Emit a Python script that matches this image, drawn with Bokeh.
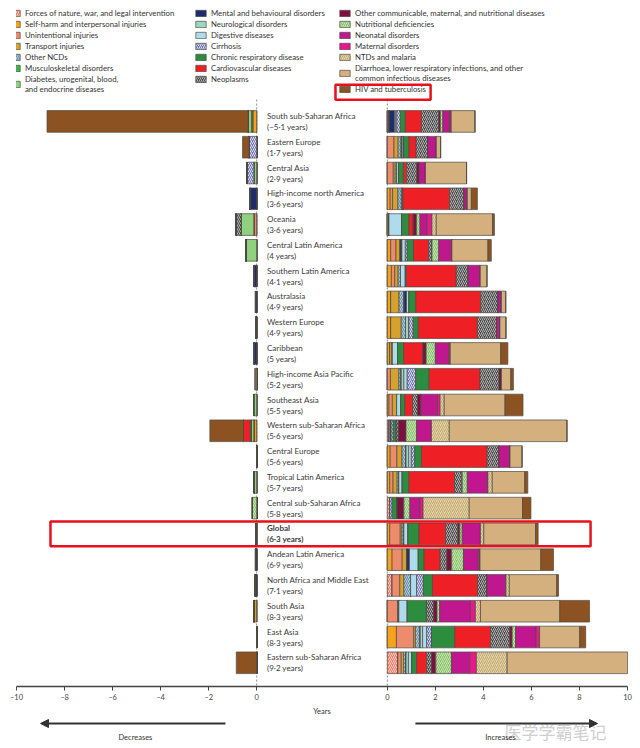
from bokeh.plotting import figure
from bokeh.models import (Range1d, ColumnDataSource, Legend, LegendItem, FixedTicker,
                          Arrow, NormalHead)
from bokeh.layouts import column
from bokeh.embed import file_html
from bokeh.resources import INLINE
from bokeh.core.properties import value

# ---------------- data ----------------
regions = ["South sub-Saharan Africa", "Eastern Europe", "Central Asia", "High-income north America",
           "Oceania", "Central Latin America", "Southern Latin America", "Australasia", "Western Europe",
           "Caribbean", "High-income Asia Pacific", "Southeast Asia", "Western sub-Saharan Africa",
           "Central Europe", "Tropical Latin America", "Central sub-Saharan Africa", "Global",
           "Andean Latin America", "North Africa and Middle East", "South Asia", "East Asia",
           "Eastern sub-Saharan Africa"]
net_years = ["\u22125\u00b71", "1\u00b77", "2\u00b79", "3\u00b76", "3\u00b76", "4", "4\u00b71", "4\u00b79", "4\u00b79", "5",
             "5\u00b72", "5\u00b75", "5\u00b76", "5\u00b76", "5\u00b77", "5\u00b78", "6\u00b73", "6\u00b79", "7\u00b71",
             "8\u00b73", "8\u00b73", "9\u00b72"]

causes = ["Forces of nature, war, and legal intervention", "Self-harm and interpersonal injuries",
          "Unintentional injuries", "Transport injuries", "Other NCDs", "Musculoskeletal disorders",
          "Diabetes, urogenital, blood,\nand endocrine diseases",
          "Mental and behavioural disorders", "Neurological disorders", "Digestive diseases", "Cirrhosis",
          "Chronic respiratory disease", "Cardiovascular diseases", "Neoplasms",
          "Other communicable, maternal, and nutritional diseases", "Nutritional deficiencies",
          "Neonatal disorders", "Maternal disorders", "NTDs and malaria",
          "Diarrhoea, lower respiratory infections, and other\ncommon infectious diseases",
          "HIV and tuberculosis"]
keys = ["forces", "selfharm", "unint", "transport", "othncd", "musc", "diab", "mental", "neuro",
        "digest", "cirr", "chresp", "cvd", "neo", "othcomm", "nutr", "neonat", "matern", "ntd",
        "diarr", "hiv"]

# increases in life expectancy (years), one value per region, top to bottom
inc_forces = [0, 0, 0, 0, 0, 0, 0, 0, 0, 0, 0, 0, 0.08, 0, 0, 0.10, 0, 0, 0.20, 0, 0, 0.44]
inc_selfharm = [0, 0, 0, 0.12, 0, 0.14, 0.17, 0.14, 0.14, 0.10, 0, 0.07, 0, 0.12, 0.10, 0, 0.10, 0.20, 0, 0, 0.38, 0]
inc_unint = [0.04, 0.28, 0.25, 0.10, 0, 0.22, 0.14, 0, 0, 0, 0.13, 0.14, 0, 0.28, 0.14, 0, 0.44, 0.42, 0.32, 0.44, 0.72, 0.14]
inc_transport = [0.04, 0.17, 0.08, 0.22, 0.07, 0.18, 0.14, 0.35, 0.44, 0.11, 0.35, 0.18, 0, 0.21, 0.17, 0, 0.07, 0.20, 0.17, 0, 0.07, 0.10]
inc_othncd = [0, 0.12, 0.06, 0.15, 0, 0, 0.10, 0.21, 0.18, 0, 0.10, 0, 0.08, 0.17, 0.07, 0, 0.08, 0, 0.28, 0.04, 0.20, 0.10]
inc_musc = [0, 0.05, 0, 0, 0, 0, 0, 0, 0, 0, 0, 0, 0, 0, 0, 0, 0, 0, 0, 0, 0, 0]
inc_diab = [0] * 22
inc_mental = [0.22, 0, 0, 0, 0, 0.07, 0, 0.10, 0, 0, 0, 0, 0, 0, 0, 0, 0, 0.10, 0, 0, 0, 0]
inc_neuro = [0.05, 0, 0, 0, 0, 0, 0, 0, 0.14, 0, 0.11, 0, 0, 0.11, 0, 0, 0, 0, 0, 0, 0.10, 0.10]
inc_digest = [0.05, 0.06, 0.08, 0.06, 0.53, 0.14, 0.20, 0.10, 0, 0.22, 0.14, 0.17, 0, 0.11, 0.14, 0, 0.17, 0.37, 0.25, 0.35, 0.17, 0.14]
inc_cirr = [0.14, 0, 0, 0, 0, 0.08, 0, 0, 0.18, 0, 0.35, 0, 0.09, 0.14, 0, 0.10, 0, 0, 0.28, 0, 0.20, 0]
inc_chresp = [0.21, 0.22, 0.20, 0, 0.30, 0.26, 0.04, 0.28, 0.21, 0.25, 0.56, 0.17, 0.12, 0.28, 0.28, 0.21, 0.46, 0.24, 0.38, 0.80, 0.97, 0.20]
inc_cvd = [0.67, 0.30, 0.14, 1.94, 0.18, 0.63, 2.08, 2.71, 2.46, 0.80, 2.12, 0.32, 0, 2.74, 1.90, 0, 1.11, 0.67, 1.88, 0, 1.49, 0.42]
inc_neo = [0.72, 0.49, 0.42, 0.60, 0, 0.14, 0.50, 0.72, 0.80, 0, 0.79, 0.21, 0.09, 0.49, 0.32, 0, 0.51, 0.28, 0.39, 0.30, 0.80, 0.20]
inc_othcomm = [0.07, 0, 0.10, 0, 0.14, 0, 0, 0, 0, 0.14, 0.10, 0.14, 0.32, 0, 0, 0.28, 0.08, 0.20, 0, 0.14, 0.10, 0.18]
inc_nutr = [0.10, 0, 0, 0, 0.14, 0.28, 0, 0, 0, 0.38, 0, 0, 0.44, 0, 0.21, 0.25, 0.10, 0.49, 0, 0.11, 0.14, 0.65]
inc_neonat = [0.28, 0.35, 0.26, 0.14, 0.30, 0.55, 0.50, 0.14, 0.14, 0.55, 0, 0.69, 0.62, 0.46, 0.86, 0.42, 0.76, 0.62, 0.79, 1.28, 0.86, 0.76]
inc_matern = [0.07, 0, 0, 0, 0.20, 0, 0, 0, 0, 0.07, 0, 0.11, 0, 0, 0, 0.13, 0, 0.07, 0, 0.21, 0.14, 0.28]
inc_ntd = [0, 0, 0, 0, 0.18, 0, 0, 0, 0, 0, 0, 0.17, 0.74, 0, 0.18, 1.92, 0.14, 0, 0.14, 0.21, 0, 1.28]
inc_diarr = [0.99, 0.18, 1.71, 0.17, 2.34, 1.50, 0.28, 0.18, 0.25, 2.10, 0.39, 2.53, 4.90, 0.50, 1.35, 2.22, 2.15, 2.53, 1.97, 3.30, 1.67, 5.04]
inc_hiv = [0, 0, 0, 0.25, 0.08, 0.14, 0, 0, 0, 0.30, 0.11, 0.75, 0, 0, 0.13, 0.35, 0.11, 0.53, 0.08, 1.24, 0.25, 0]

# decreases in life expectancy (years, negative)
dec_forces = [0] * 22
dec_selfharm = [-0.17, 0, 0, 0, 0, 0, 0, 0, 0, 0, 0, 0, -0.12, 0, 0, 0, 0, 0, 0, 0, 0, 0]
dec_unint = [0, 0, 0, 0, -0.12, 0, 0, 0, 0, 0, 0, 0, 0, 0, 0, 0, 0, 0, 0, 0, 0, 0]
dec_transport = [0, 0, 0, 0, 0, 0, 0, 0, 0, 0, 0, 0, 0, 0, 0, 0, 0, 0, 0, -0.12, 0, 0]
dec_othncd = [0] * 22
dec_musc = [-0.05, 0, 0, 0, 0, 0, 0, 0, 0, 0, 0, 0, 0, 0, 0, 0, 0, 0, 0, 0, 0, 0]
dec_diab = [-0.13, 0, -0.12, 0, -0.52, -0.45, 0, 0, 0, 0, 0, -0.13, -0.10, 0, -0.10, 0, -0.03, 0, 0, 0, 0, 0]
dec_mental = [0, 0, 0, -0.28, 0, 0, -0.12, -0.05, -0.03, -0.10, 0, 0, 0, 0, 0, 0, 0, -0.05, -0.06, 0, 0, 0]
dec_neuro = [0] * 22
dec_digest = [0] * 22
dec_cirr = [0, -0.32, -0.28, 0, 0, 0, 0, 0, 0, 0, 0, 0, 0, 0, 0, 0, 0, 0, 0, 0, 0, 0]
dec_chresp = [0, 0, 0, 0, 0, 0, 0, 0, 0, 0, 0, 0, -0.05, 0, 0, 0, 0, 0, 0, 0, 0, 0]
dec_cvd = [0, 0, 0, 0, 0, 0, 0, 0, 0, 0, 0, 0, -0.28, 0, 0, 0, 0, 0, 0, 0, 0, 0]
dec_neo = [0, 0, 0, 0, -0.22, 0, 0, 0, 0, 0, 0, 0, 0, 0, 0, 0, 0, 0, 0, 0, 0, 0]
dec_othcomm = [0] * 22
dec_nutr = [0, 0, 0, 0, 0, 0, 0, 0, 0, 0, 0, 0, 0, 0, 0, -0.18, 0, 0, 0, 0, 0, 0]
dec_neonat = [0] * 22
dec_matern = [0] * 22
dec_ntd = [0] * 22
dec_diarr = [0, 0, 0, 0, 0, 0, 0, 0, 0, 0, -0.07, 0, 0, 0, 0, 0, 0, 0, 0, 0, 0, 0]
dec_hiv = [-8.38, -0.27, 0, 0, 0, 0, 0, 0, 0, 0, 0, 0, -1.40, 0, 0, 0, 0, 0, 0, 0, 0, -0.85]

left_ticks = [-10, -8, -6, -4, -2, 0]
right_ticks = [0, 2, 4, 6, 8, 10]

# ---------------- styles ----------------
colors = ["#ef7c68", "#f5a21d", "#ee8b6c", "#d6a12c", "#a9c6d8", "#3db54a", "#8fd17e",
          "#1f2b6f", "#9ed6c4", "#aedcec", "#6c70b8", "#2d8d3f", "#ee1f25", "#4a4a4a",
          "#7b1140", "#88c46a", "#c0168e", "#e9178c", "#e5d2a0", "#d3b07e", "#8c5222"]
hatches = ["/", None, None, None, "/", None, None, None, None, None, "/", None, None, "/",
           None, "/", None, None, "/", None, None]
hatch_cols = ["#fde0d8", "#fff", "#fff", "#fff", "#5f7f96", "#fff", "#fff", "#fff", "#fff", "#fff",
              "#ffffff", "#fff", "#fff", "#cfcfcf", "#fff", "#d8ecc8", "#fff", "#fff", "#b8a070",
              "#fff", "#fff"]
OFF = 5.4375  # where the right panel's zero sits on the shared canvas scale
FONT = value("Lato")

inc = dict(zip(keys, [inc_forces, inc_selfharm, inc_unint, inc_transport, inc_othncd, inc_musc,
                      inc_diab, inc_mental, inc_neuro, inc_digest, inc_cirr, inc_chresp, inc_cvd,
                      inc_neo, inc_othcomm, inc_nutr, inc_neonat, inc_matern, inc_ntd, inc_diarr,
                      inc_hiv]))
dec = dict(zip(keys, [dec_forces, dec_selfharm, dec_unint, dec_transport, dec_othncd, dec_musc,
                      dec_diab, dec_mental, dec_neuro, dec_digest, dec_cirr, dec_chresp, dec_cvd,
                      dec_neo, dec_othcomm, dec_nutr, dec_neonat, dec_matern, dec_ntd, dec_diarr,
                      dec_hiv]))
ypos = list(range(len(regions)))

p = figure(width=640, height=718, x_range=Range1d(-10, 10 + OFF), y_range=Range1d(21.92, -4.692),
           output_backend="svg", toolbar_location=None, min_border_left=16, min_border_right=13,
           min_border_top=0, min_border_bottom=26, y_axis_location=None)
p.extra_x_ranges = {"right": Range1d(-10 - OFF, 10)}
p.outline_line_color = None
p.xgrid.visible = False
p.ygrid.visible = False
p.background_fill_color = "white"
p.border_fill_color = "white"

# zero lines
p.segment(x0=0, x1=0, y0=-0.85, y1=21.92, line_color="#8a8a8a", line_dash="2 2", line_width=1)
p.segment(x0=0, x1=0, y0=-0.85, y1=21.92, line_color="#8a8a8a", line_dash="2 2", line_width=1,
          x_range_name="right")

common = dict(y="y", height=0.84, fill_color=colors, line_color="#4e4a44", line_width=0.7,
              hatch_pattern=hatches, hatch_color=hatch_cols, hatch_scale=4, hatch_weight=0.8)
src_inc = ColumnDataSource(dict(y=ypos, **inc))
src_dec = ColumnDataSource(dict(y=ypos, **dec))
r_inc = p.hbar_stack(keys, source=src_inc, x_range_name="right", **common)
r_dec = p.hbar_stack(keys, source=src_dec, **common)

# region labels
labels = [f"{r}\n({y} years)" for r, y in zip(regions, net_years)]
styles = ["bold" if r == "Global" else "normal" for r in regions]
src_lab = ColumnDataSource(dict(y=ypos, text=labels, style=styles))
p.text(x=0.43, y="y", text="text", source=src_lab, text_font=FONT, text_font_size="8px",
       text_color="#3a3a3a", text_baseline="middle", text_align="left", text_line_height=1.1,
       text_font_style="style")

# highlight boxes
p.quad(left=-8.585, right=13.9, top=15.52, bottom=16.48, fill_alpha=0, line_color="#e8101a",
       line_width=2.5)
p.quad(left=3.28, right=7.24, top=-1.423, bottom=-0.846, fill_alpha=0, line_color="#e8101a",
       line_width=2.5)

# legends (three columns)
def make_legend(idx, loc):
    items = [LegendItem(label=causes[i], renderers=[r_inc[i]]) for i in idx]
    lg = Legend(items=items, location=loc, orientation="vertical", glyph_width=13, glyph_height=8,
                label_standoff=4, label_text_font="Lato", label_text_font_size="7.8px",
                label_text_color="#333333", label_height=9, spacing=1, padding=0, margin=0,
                background_fill_alpha=0, border_line_alpha=0, label_text_line_height=1.25)
    p.add_layout(lg)

make_legend(range(0, 7), (-8, 592))
make_legend(range(7, 14), (178, 602))
make_legend(range(14, 21), (322, 592))

# axis
ax = p.xaxis[0]
ax.ticker = FixedTicker(ticks=left_ticks + [t + OFF for t in right_ticks])
over = {t: (f"\u2013{abs(t)}" if t < 0 else str(t)) for t in left_ticks}
over.update({t + OFF: str(t) for t in right_ticks})
ax.major_label_overrides = over
ax.axis_label = "Years"
ax.axis_label_text_font_style = "normal"
ax.axis_label_text_font = "Lato"
ax.axis_label_text_font_size = "7.5px"
ax.axis_label_text_color = "#333333"
ax.axis_label_standoff = 2
ax.major_label_text_font = "Lato"
ax.major_label_text_font_size = "7.5px"
ax.major_label_text_color = "#444444"
ax.major_label_standoff = 2
ax.axis_line_color = "#444444"
ax.axis_line_width = 1.3
ax.major_tick_line_color = "#444444"
ax.major_tick_in = 0
ax.major_tick_out = 4
ax.minor_tick_line_color = None

# bottom strip with direction arrows
s = figure(width=640, height=30, x_range=p.x_range, y_range=Range1d(0, 1), output_backend="svg",
           toolbar_location=None, min_border_left=16, min_border_right=13, min_border_top=0,
           min_border_bottom=0, x_axis_location=None, y_axis_location=None)
s.extra_x_ranges = {"right": p.extra_x_ranges["right"]}
s.outline_line_color = None
s.xgrid.visible = False
s.ygrid.visible = False
s.text(x=7.0, y=0.56, text=["医学学霸笔记"], x_range_name="right", text_font=value("Noto Sans CJK SC"),
       text_font_size="17px", text_color="#cfcfcf", text_align="center", text_baseline="middle")
s.add_layout(Arrow(end=NormalHead(size=8, fill_color="#333333", line_color="#333333", line_width=1),
                   x_start=-1.3, y_start=0.833, x_end=-9.0, y_end=0.833, line_width=2,
                   line_color="#333333"))
s.add_layout(Arrow(end=NormalHead(size=8, fill_color="#333333", line_color="#333333", line_width=1),
                   x_start=1.17, y_start=0.833, x_end=8.75, y_end=0.833, line_width=2,
                   line_color="#333333", x_range_name="right"))
s.text(x=-5.05, y=0.367, text=["Decreases"], text_font=FONT, text_font_size="7.5px",
       text_color="#333333", text_align="center", text_baseline="middle")
s.text(x=4.71, y=0.367, text=["Increases"], x_range_name="right", text_font=FONT,
       text_font_size="7.5px", text_color="#333333", text_align="center", text_baseline="middle")

layout = column(p, s, spacing=0)
open("out.html", "w").write(file_html(layout, INLINE))
